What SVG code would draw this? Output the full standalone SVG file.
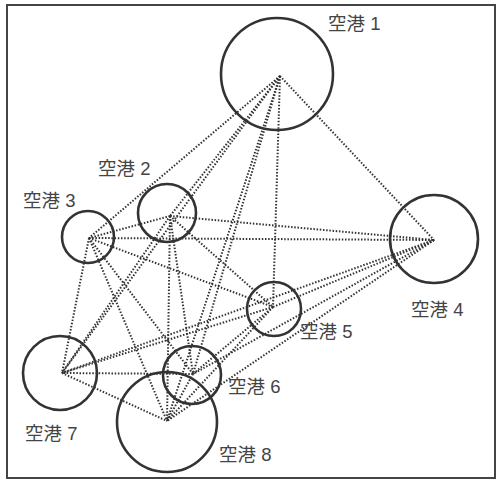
<svg xmlns="http://www.w3.org/2000/svg" width="498" height="482" viewBox="0 0 498 482">
<style>
.frame{fill:#fff;stroke:#444;stroke-width:2}
.ap{fill:none;stroke:#333;stroke-width:2.6}
.lbl{font-family:"Liberation Sans","Noto Sans CJK JP",sans-serif;font-size:18.5px;fill:#444}
.route{stroke:#333;stroke-width:2;stroke-dasharray:1.5 1.7;fill:none}
</style>
<rect class="frame" x="7" y="5" width="488" height="473"/>
<g id="connectors">
<line class="route" x1="280" y1="76" x2="170" y2="216"/>
<line class="route" x1="280" y1="76" x2="89" y2="238"/>
<line class="route" x1="280" y1="76" x2="434" y2="240"/>
<line class="route" x1="280" y1="76" x2="273" y2="307"/>
<line class="route" x1="280" y1="76" x2="193" y2="374"/>
<line class="route" x1="280" y1="76" x2="62" y2="373"/>
<line class="route" x1="280" y1="76" x2="167" y2="421"/>
<line class="route" x1="170" y1="216" x2="89" y2="238"/>
<line class="route" x1="170" y1="216" x2="434" y2="240"/>
<line class="route" x1="170" y1="216" x2="273" y2="307"/>
<line class="route" x1="170" y1="216" x2="193" y2="374"/>
<line class="route" x1="170" y1="216" x2="62" y2="373"/>
<line class="route" x1="170" y1="216" x2="167" y2="421"/>
<line class="route" x1="89" y1="238" x2="434" y2="240"/>
<line class="route" x1="89" y1="238" x2="273" y2="307"/>
<line class="route" x1="89" y1="238" x2="193" y2="374"/>
<line class="route" x1="89" y1="238" x2="62" y2="373"/>
<line class="route" x1="89" y1="238" x2="167" y2="421"/>
<line class="route" x1="434" y1="240" x2="273" y2="307"/>
<line class="route" x1="434" y1="240" x2="193" y2="374"/>
<line class="route" x1="434" y1="240" x2="62" y2="373"/>
<line class="route" x1="434" y1="240" x2="167" y2="421"/>
<line class="route" x1="273" y1="307" x2="193" y2="374"/>
<line class="route" x1="273" y1="307" x2="62" y2="373"/>
<line class="route" x1="273" y1="307" x2="167" y2="421"/>
<line class="route" x1="193" y1="374" x2="62" y2="373"/>
<line class="route" x1="193" y1="374" x2="167" y2="421"/>
<line class="route" x1="62" y1="373" x2="167" y2="421"/>
</g>
<g id="airport1"><circle class="ap" cx="277" cy="74" r="56"/><text class="lbl" x="328" y="30">空港 1</text></g>
<g id="airport2"><circle class="ap" cx="167" cy="213" r="29"/><text class="lbl" x="98" y="175">空港 2</text></g>
<g id="airport3"><circle class="ap" cx="88" cy="237" r="26"/><text class="lbl" x="23" y="207">空港 3</text></g>
<g id="airport4"><circle class="ap" cx="434" cy="239" r="44"/><text class="lbl" x="411" y="316">空港 4</text></g>
<g id="airport5"><circle class="ap" cx="274" cy="309" r="27"/><text class="lbl" x="300" y="338">空港 5</text></g>
<g id="airport6"><circle class="ap" cx="192" cy="375" r="29"/><text class="lbl" x="228" y="393">空港 6</text></g>
<g id="airport7"><circle class="ap" cx="60" cy="373" r="37"/><text class="lbl" x="25" y="440">空港 7</text></g>
<g id="airport8"><circle class="ap" cx="167" cy="422" r="50"/><text class="lbl" x="219" y="461">空港 8</text></g>
</svg>
